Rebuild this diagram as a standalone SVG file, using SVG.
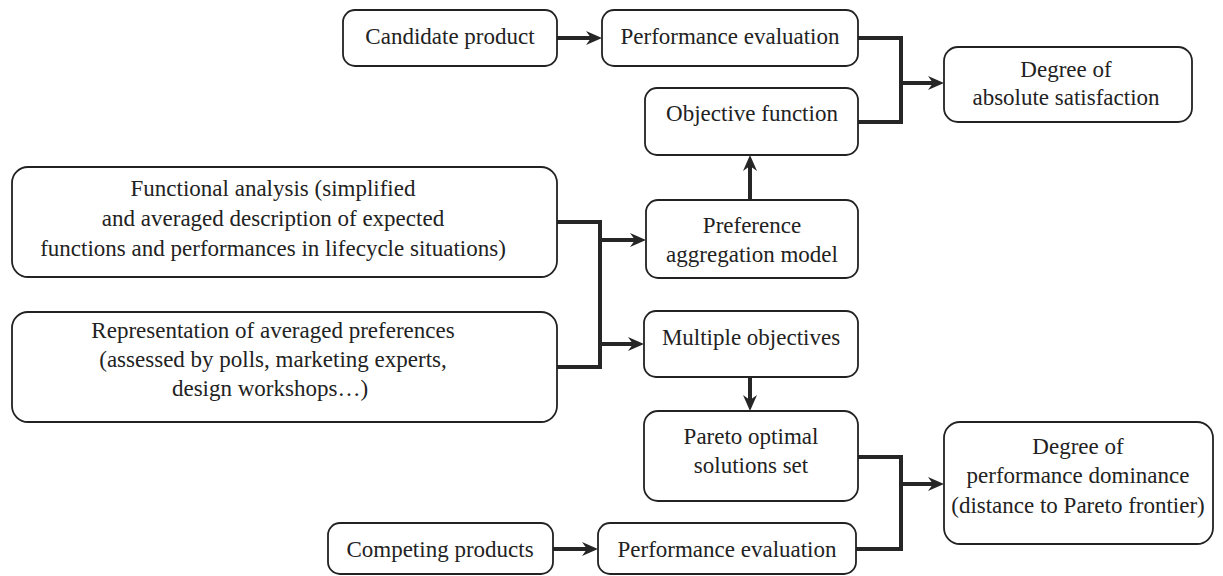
<svg xmlns="http://www.w3.org/2000/svg" width="1223" height="576" viewBox="0 0 1223 576">
<style>
.box{fill:#fff;stroke:#222;stroke-width:1.8}
.t{font-family:'Liberation Serif','Times New Roman',serif;font-size:23px;fill:#222;text-anchor:middle}
.c{fill:none;stroke:#262626;stroke-width:4}
.a{fill:none;stroke:#262626;stroke-width:4;marker-end:url(#ah)}
</style>
<defs>
<marker id="ah" viewBox="0 0 16 16" refX="6" refY="8" markerWidth="16" markerHeight="16" markerUnits="userSpaceOnUse" orient="auto">
<path d="M0,1 L16,8 L0,15 L5,8 z" fill="#262626"/>
</marker>
</defs>
<rect width="1223" height="576" fill="#fff"/>
<g id="connectors">
<path class="a" d="M557,38 H592"/>
<path class="c" d="M858,38 H901 V122 H858"/>
<path class="a" d="M901,83 H934"/>
<path class="a" d="M750,200 V165"/>
<path class="c" d="M557,222 H600 V367 H557"/>
<path class="a" d="M600,240 H636"/>
<path class="a" d="M600,344 H634"/>
<path class="a" d="M750,377 V401"/>
<path class="c" d="M858,457 H901 V549 H856"/>
<path class="a" d="M901,484 H934"/>
<path class="a" d="M553,549 H588"/>
</g>
<g id="candidate">
<rect class="box" x="343" y="10" width="214" height="56" rx="12"/>
<text class="t" x="450" y="44">Candidate product</text>
</g>
<g id="perf-eval-top">
<rect class="box" x="602" y="10" width="256" height="56" rx="12"/>
<text class="t" x="730" y="44">Performance evaluation</text>
</g>
<g id="objective-function">
<rect class="box" x="645" y="88" width="213" height="67" rx="12"/>
<text class="t" x="752" y="121">Objective function</text>
</g>
<g id="absolute-satisfaction">
<rect class="box" x="944" y="47" width="248" height="75" rx="14"/>
<text class="t" x="1066" y="77">Degree of</text>
<text class="t" x="1066" y="105">absolute satisfaction</text>
</g>
<g id="functional-analysis">
<rect class="box" x="12" y="167" width="545" height="110" rx="16"/>
<text class="t" x="273" y="196">Functional analysis (simplified</text>
<text class="t" x="273" y="226">and averaged description of expected</text>
<text class="t" x="273" y="256">functions and performances in lifecycle situations)</text>
</g>
<g id="representation">
<rect class="box" x="12" y="312" width="545" height="110" rx="16"/>
<text class="t" x="273" y="338">Representation of averaged preferences</text>
<text class="t" x="273" y="367">(assessed by polls, marketing experts,</text>
<text class="t" x="270" y="396">design workshops…)</text>
</g>
<g id="preference-aggregation">
<rect class="box" x="646" y="200" width="212" height="78" rx="12"/>
<text class="t" x="752" y="233">Preference</text>
<text class="t" x="752" y="262">aggregation model</text>
</g>
<g id="multiple-objectives">
<rect class="box" x="644" y="311" width="214" height="66" rx="12"/>
<text class="t" x="751" y="345">Multiple objectives</text>
</g>
<g id="pareto-set">
<rect class="box" x="644" y="411" width="214" height="90" rx="14"/>
<text class="t" x="751" y="444">Pareto optimal</text>
<text class="t" x="751" y="473">solutions set</text>
</g>
<g id="performance-dominance">
<rect class="box" x="944" y="422" width="269" height="122" rx="16"/>
<text class="t" x="1078" y="454">Degree of</text>
<text class="t" x="1078" y="483">performance dominance</text>
<text class="t" x="1078" y="513">(distance to Pareto frontier)</text>
</g>
<g id="competing-products">
<rect class="box" x="328" y="523" width="225" height="51" rx="12"/>
<text class="t" x="440" y="557">Competing products</text>
</g>
<g id="perf-eval-bottom">
<rect class="box" x="598" y="523" width="258" height="51" rx="12"/>
<text class="t" x="727" y="557">Performance evaluation</text>
</g>
</svg>
